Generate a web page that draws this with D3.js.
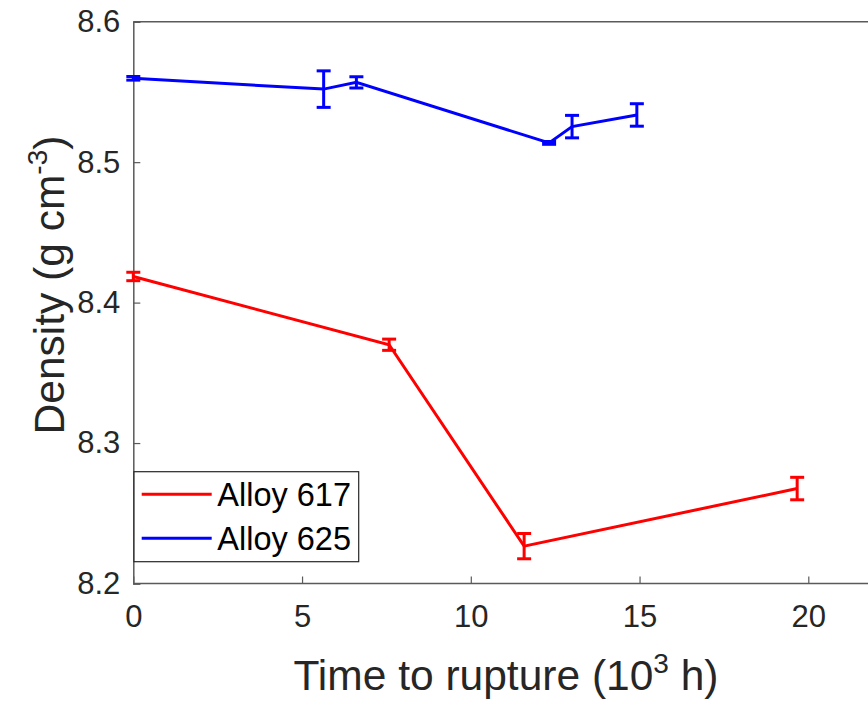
<!DOCTYPE html>
<html>
<head>
<meta charset="utf-8">
<script src="https://cdn.jsdelivr.net/npm/d3@7"></script>
<style>
  html, body { margin: 0; padding: 0; background: #fff; }
  svg { display: block; font-family: "Liberation Sans", Arial, Helvetica, sans-serif; }
</style>
</head>
<body>
<svg id="chart" width="868" height="704"></svg>
<script>
/*** DATA ***/
const seriesNames = ['Alloy 617', 'Alloy 625'];
const seriesColors = ['#ff0000', '#0000ff'];

// time to rupture (10^3 h), density (g cm^-3), error half-width
const alloy617Time    = [0, 7.58, 11.58, 19.67];
const alloy617Density = [8.4186, 8.370, 8.2266, 8.2676];
const alloy617Err     = [0.003, 0.004, 0.009, 0.008];

const alloy625Time    = [0, 5.64, 6.61, 12.32, 13.0, 14.92];
const alloy625Density = [8.5597, 8.552, 8.5568, 8.5137, 8.5253, 8.5336];
const alloy625Err     = [0.0013, 0.013, 0.004, 0.001, 0.008, 0.008];

const xTicks = [0, 5, 10, 15, 20];
const yTicks = [8.2, 8.3, 8.4, 8.5, 8.6];

/*** DIMENSIONS ***/
const margin = {top: 21.7, left: 133.3, bottom: 583.5, right: 880};
const svg = d3.select('#chart');
const textColor = '#262626';
const axisColor = '#5a5a5a';

const x = d3.scaleLinear().domain([0, 20]).range([margin.left, margin.left + 20 * 33.75]);
const y = d3.scaleLinear().domain([8.2, 8.6]).range([margin.bottom, margin.top]);

/*** AXES ***/
const xAxis = svg.append('g')
    .attr('transform', `translate(0,${margin.bottom})`)
    .call(d3.axisBottom(x).tickValues(xTicks).tickSize(-7).tickPadding(21).tickFormat(d3.format('d')));
xAxis.select('.domain').attr('d', `M${margin.left},0H${margin.right}`);

const yAxis = svg.append('g')
    .attr('transform', `translate(${margin.left},0)`)
    .call(d3.axisLeft(y).tickValues(yTicks).tickSize(-7).tickPadding(13).tickFormat(d3.format('.1f')));

[xAxis, yAxis].forEach(g => {
  g.select('.domain').attr('stroke', axisColor).attr('stroke-width', 1.5);
  g.selectAll('.tick line').attr('stroke', axisColor).attr('stroke-width', 1.2);
  g.selectAll('.tick text').attr('fill', textColor).style('font-size', '31px');
});
xAxis.selectAll('.tick text').attr('dy', '0.71em');

// top border of box
svg.append('line')
    .attr('x1', margin.left).attr('x2', margin.right)
    .attr('y1', margin.top).attr('y2', margin.top)
    .attr('stroke', axisColor).attr('stroke-width', 1.5);

/*** SERIES ***/
const series = [
  {name: seriesNames[0], color: seriesColors[0],
   values: alloy617Time.map((t, i) => ({t, d: alloy617Density[i], e: alloy617Err[i]}))},
  {name: seriesNames[1], color: seriesColors[1],
   values: alloy625Time.map((t, i) => ({t, d: alloy625Density[i], e: alloy625Err[i]}))}
];

const line = d3.line().x(d => x(d.t)).y(d => y(d.d));
const capW = 7;

series.forEach(s => {
  const g = svg.append('g');
  g.append('path')
      .attr('d', line(s.values))
      .attr('fill', 'none')
      .attr('stroke', s.color)
      .attr('stroke-width', 3);

  const eb = g.selectAll('g.err').data(s.values).enter().append('g').attr('class', 'err');
  eb.append('line')
      .attr('x1', d => x(d.t)).attr('x2', d => x(d.t))
      .attr('y1', d => y(d.d + d.e)).attr('y2', d => y(d.d - d.e))
      .attr('stroke', s.color).attr('stroke-width', 3);
  [1, -1].forEach(sign => {
    eb.append('line')
        .attr('x1', d => x(d.t) - capW).attr('x2', d => x(d.t) + capW)
        .attr('y1', d => y(d.d + sign * d.e)).attr('y2', d => y(d.d + sign * d.e))
        .attr('stroke', s.color).attr('stroke-width', 3);
  });
});

/*** LEGEND ***/
const legend = svg.append('g').attr('transform', 'translate(134,471.7)');
legend.append('rect')
    .attr('width', 224.7).attr('height', 90)
    .attr('fill', '#fff').attr('stroke', '#262626').attr('stroke-width', 1.2);
series.forEach((s, i) => {
  const row = legend.append('g').attr('transform', `translate(0,${22.6 + i * 44})`);
  row.append('line').attr('x1', 7.7).attr('x2', 77.7)
      .attr('stroke', s.color).attr('stroke-width', 3);
  row.append('text').attr('x', 83.3).attr('dy', '0.36em')
      .attr('fill', '#000').style('font-size', '32.5px').text(s.name);
});

/*** AXIS TITLES ***/
const xTitle = svg.append('text')
    .attr('x', 506).attr('y', 690)
    .attr('text-anchor', 'middle')
    .attr('fill', textColor).style('font-size', '42.5px');
xTitle.append('tspan').text('Time to rupture (10');
xTitle.append('tspan').attr('dy', -17).style('font-size', '28px').text('3');
xTitle.append('tspan').attr('dy', 17).text(' h)');

const yTitle = svg.append('text')
    .attr('transform', `translate(64,285) rotate(-90)`)
    .attr('text-anchor', 'middle')
    .attr('fill', textColor).style('font-size', '42.5px');
yTitle.append('tspan').text('Density (g cm');
yTitle.append('tspan').attr('dy', -17).style('font-size', '28px').text('-3');
yTitle.append('tspan').attr('dy', 17).text(')');
</script>
</body>
</html>
